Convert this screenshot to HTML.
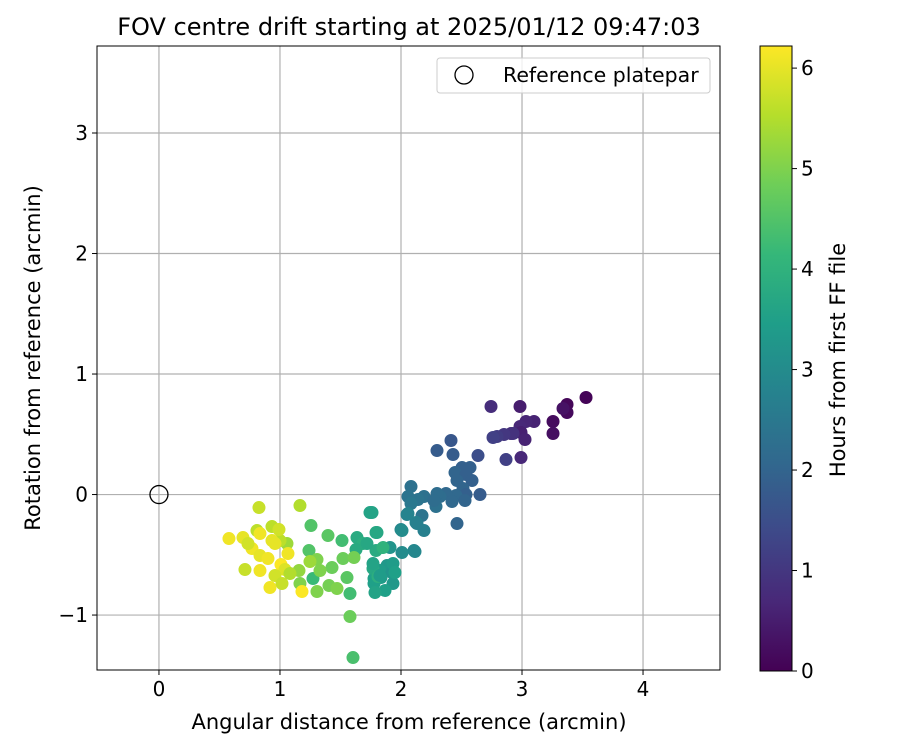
<!DOCTYPE html>
<html><head><meta charset="utf-8"><style>
body{margin:0;background:#fff;font-family:"Liberation Sans","DejaVu Sans",sans-serif}
svg text{font-family:"DejaVu Sans","Liberation Sans",sans-serif;fill:#000}
</style></head><body>
<svg id="chart" width="900" height="750" xmlns="http://www.w3.org/2000/svg"></svg>
<script>
const xs=[586,567,567,553,553,563,520,491,534,526,520,511,521,525,513,504,497,506,521,493,
451,437,453,478,462,455,470,466,457,472,463,480,466,456,446,465,452,457,440,411,437,424,418,436,408,411,422,434,
407,401,416,424,414,390,387,380,374,392,381,393,385,374,375,370,376,357,363,376,373,378,
367,356,377,383,373,380,393,395,402,402,415,408,417,
372,311,328,342,309,317,310,343,354,332,347,313,329,337,350,317,300,299,350,353,300,259,287,280,272,279,257,243,229,260,272,275,252,260,268,288,281,285,245,260,275,282,270,302,248,290,320].map(p=>(p-159)/121);
const ys=[397,404,412,421,433,408,406,406,421,421,426,433,432,439,433,434,436,459,457,437,
440,450,454,455,467,472,467,474,480,480,488,494,494,495,493,500,501,523,496,486,493,496,499,506,496,503,515,500,
514,529,522,530,550,547,565,570,578,572,577,583,590,583,592,512,532,537,543,550,568,576,
543,549,532,547,563,575,563,572,530,552,551,513,523,
512,525,535,540,550,559,561,558,557,567,577,578,585,588,593,591,583,570,616,657,505,507,543,540,526,529,530,537,538,533,540,543,548,555,558,553,564,569,569,570,575,583,587,591,543,573,570].map(p=>(494-p)/120.5);
const hours=[0.05,0.1,0.15,0.2,0.25,0.3,0.5,0.8,0.6,0.65,0.7,0.8,0.55,0.6,0.9,1.0,1.1,1.2,0.7,1.2,
1.7,1.8,1.8,1.5,1.9,2.0,1.9,1.9,2.0,1.9,2.0,1.8,1.9,2.1,2.1,2.0,2.1,2.0,2.2,2.3,2.2,2.3,2.4,2.3,2.4,2.5,2.4,2.2,
2.8,2.9,2.8,2.7,2.9,3.2,3.3,3.4,3.5,3.2,3.4,3.3,3.5,3.5,3.6,3.6,3.7,3.8,3.9,3.8,3.7,3.9,
3.7,3.8,3.7,4.0,3.6,3.4,3.4,3.5,3.0,3.0,2.9,2.8,2.7,
3.6,4.5,4.6,4.3,4.5,5.0,5.3,4.8,4.9,4.8,4.6,4.2,4.9,5.0,4.3,5.0,5.0,5.2,4.8,4.4,5.5,5.7,5.3,5.6,5.6,5.8,5.6,6.0,6.1,6.1,6.0,6.0,6.1,6.0,6.1,6.1,6.2,5.9,5.7,6.1,5.8,5.7,6.1,6.2,5.8,5.5,5.0];
const xTicks=[0,1,2,3,4], yTicks=[-1,0,1,2,3], cTicks=[0,1,2,3,4,5,6];
const X0=97,X1=720,Y0=46,Y1=670,xmin=-0.512,xmax=4.636,ymin=-1.456,ymax=3.722,cmax=6.22;
const sx=v=>X0+(v-xmin)/(xmax-xmin)*(X1-X0), sy=v=>Y1-(v-ymin)/(ymax-ymin)*(Y1-Y0);
const CB0=671,CB1=46, sc=v=>CB0-v/cmax*(CB0-CB1);
const vir=["#440154","#482878","#3e4989","#31688e","#26828e","#1f9e89","#35b779","#6ece58","#b5de2b","#fde725"];
function hex(h){return [1,3,5].map(i=>parseInt(h.substr(i,2),16));}
function cmap(t){t=Math.max(0,Math.min(1,t))*9;const i=Math.min(8,Math.floor(t)),f=t-i;const a=hex(vir[i]),b=hex(vir[i+1]);return `rgb(${a.map((v,k)=>Math.round(v+(b[k]-v)*f)).join(',')})`;}
const svg=document.getElementById('chart'),NS="http://www.w3.org/2000/svg";
function el(tag,at,txt){const e=document.createElementNS(NS,tag);for(const k in at)e.setAttribute(k,at[k]);if(txt!==undefined)e.textContent=txt;svg.appendChild(e);return e;}
let e;
e=el('text',{x:409,y:35,'text-anchor':'middle','font-size':'24'},'FOV centre drift starting at 2025/01/12 09:47:03');


xTicks.forEach(v=>{
 e=el('line',{x1:sx(v),x2:sx(v),y1:Y0,y2:Y1,stroke:'#b0b0b0','stroke-width':1.2});
 
 
 el('line',{x1:sx(v),x2:sx(v),y1:Y1,y2:Y1+5,stroke:'#000'});
 e=el('text',{x:sx(v),y:Y1+26,'text-anchor':'middle','font-size':'20'},String(v));
 
 
});
yTicks.forEach(v=>{
 e=el('line',{x1:X0,x2:X1,y1:sy(v),y2:sy(v),stroke:'#b0b0b0','stroke-width':1.2});
 
 
 el('line',{x1:X0-5,x2:X0,y1:sy(v),y2:sy(v),stroke:'#000'});
 e=el('text',{x:X0-9,y:sy(v)+7,'text-anchor':'end','font-size':'20'},v<0?'\u2212'+(-v):String(v));
 
 
});
hours.forEach((h,i)=>{
 e=el('circle',{cx:sx(xs[i]),cy:sy(ys[i]),r:6.5,fill:cmap(h/cmax)});
 
 
});
e=el('circle',{cx:sx(0),cy:sy(0),r:9,fill:'none',stroke:'#000','stroke-width':1.3});


e=el('rect',{x:X0,y:Y0,width:X1-X0,height:Y1-Y0,fill:'none',stroke:'#000','stroke-width':1});


e=el('rect',{x:437,y:58,width:273,height:35,rx:3,fill:'#fff','fill-opacity':0.8,stroke:'#ccc'});


el('circle',{cx:464,cy:75,r:9,fill:'none',stroke:'#000','stroke-width':1.3});
e=el('text',{x:503,y:82,'font-size':'20.5'},'Reference platepar');


e=el('text',{x:0,y:0,'text-anchor':'middle','font-size':'21',transform:`translate(409,729)`},'Angular distance from reference (arcmin)');


e=el('text',{x:0,y:0,'text-anchor':'middle','font-size':'21',transform:`translate(40,358) rotate(-90)`},'Rotation from reference (arcmin)');


const defs=el('defs',{});const g=document.createElementNS(NS,'linearGradient');g.setAttribute('id','vg');g.setAttribute('x1','0');g.setAttribute('y1','1');g.setAttribute('x2','0');g.setAttribute('y2','0');
vir.forEach((c,i)=>{const s=document.createElementNS(NS,'stop');s.setAttribute('offset',i/9);s.setAttribute('stop-color',c);g.appendChild(s);});defs.appendChild(g);
e=el('rect',{x:760,y:CB1,width:32,height:CB0-CB1,fill:'url(#vg)',stroke:'#000','stroke-width':1});


cTicks.forEach(v=>{
 el('line',{x1:792,x2:797,y1:sc(v),y2:sc(v),stroke:'#000'});
 e=el('text',{x:801,y:sc(v)+7,'font-size':'20'},String(v));
 
 
});
e=el('text',{x:0,y:0,'text-anchor':'middle','font-size':'21',transform:`translate(845,360) rotate(-90)`},'Hours from first FF file');


</script>
</body></html>
